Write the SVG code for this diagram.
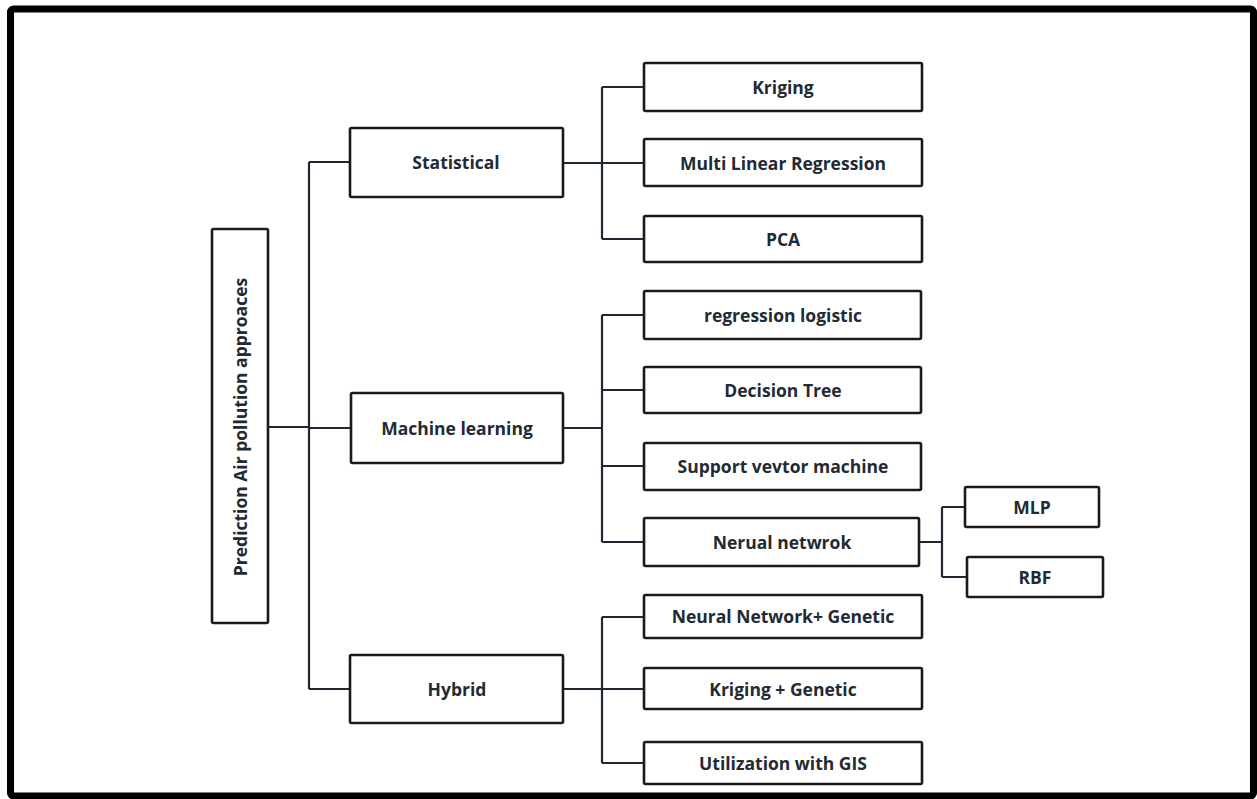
<svg xmlns="http://www.w3.org/2000/svg" width="1257" height="799" viewBox="0 0 1257 799">
<style>
.box{fill:#fff;stroke:#1a1a1a;stroke-width:2.6}
.lbl{font-family:"Open Sans","Liberation Sans",sans-serif;font-weight:700;font-size:17.5px;fill:#222a33;text-anchor:middle;dominant-baseline:central}
.con{fill:none;stroke:#1e2733;stroke-width:2.2}
</style>
<rect x="0" y="0" width="1257" height="799" fill="#fff"/>
<rect x="10.5" y="9" width="1243" height="787" rx="3" fill="#fff" stroke="#000" stroke-width="7"/>
<g id="connectors">
<path class="con" d="M268 427 H309" stroke-width="3"/>
<path class="con" d="M309 162 V689"/>
<path class="con" d="M309 162 H350 M309 428 H351 M309 689 H350"/>
<path class="con" d="M563 163 H602 M602 87 V239 M602 87 H644 M602 163 H644 M602 239 H644"/>
<path class="con" d="M563 428 H602 M602 315 V542 M602 315 H644 M602 390 H644 M602 466 H644 M602 542 H644" />
<path class="con" d="M919 542 H942 M942 507 V577 M942 507 H965 M942 577 H967"/>
<path class="con" d="M563 689 H602 M602 617 V763 M602 617 H644 M602 689 H644 M602 763 H644"/>
</g>
<g id="root"><rect class="box" x="212" y="229" width="56" height="394" rx="1.5"/><text class="lbl" transform="translate(240 427) rotate(-90)">Prediction Air pollution approaces</text></g>
<g id="statistical"><rect class="box" x="350" y="128" width="213" height="69" rx="1.5"/><text class="lbl" x="456" y="162">Statistical</text></g>
<g id="machine-learning"><rect class="box" x="351" y="393" width="212" height="70" rx="1.5"/><text class="lbl" x="457" y="428">Machine learning</text></g>
<g id="hybrid"><rect class="box" x="350" y="655" width="213" height="68" rx="1.5"/><text class="lbl" x="457" y="689">Hybrid</text></g>
<g id="kriging"><rect class="box" x="644" y="63" width="278" height="48" rx="1.5"/><text class="lbl" x="783" y="87">Kriging</text></g>
<g id="mlr"><rect class="box" x="644" y="139" width="278" height="47" rx="1.5"/><text class="lbl" x="783" y="163">Multi Linear Regression</text></g>
<g id="pca"><rect class="box" x="644" y="216" width="278" height="46" rx="1.5"/><text class="lbl" x="783" y="239">PCA</text></g>
<g id="regression-logistic"><rect class="box" x="644" y="291" width="277" height="48" rx="1.5"/><text class="lbl" x="783" y="315">regression logistic</text></g>
<g id="decision-tree"><rect class="box" x="644" y="367" width="277" height="46" rx="1.5"/><text class="lbl" x="783" y="390">Decision Tree</text></g>
<g id="svm"><rect class="box" x="644" y="443" width="277" height="47" rx="1.5"/><text class="lbl" x="783" y="466">Support vevtor machine</text></g>
<g id="neural-network"><rect class="box" x="644" y="518" width="275" height="48" rx="1.5"/><text class="lbl" x="782" y="542">Nerual netwrok</text></g>
<g id="mlp"><rect class="box" x="965" y="487" width="134" height="40" rx="1.5"/><text class="lbl" x="1032" y="507">MLP</text></g>
<g id="rbf"><rect class="box" x="967" y="557" width="136" height="40" rx="1.5"/><text class="lbl" x="1035" y="577">RBF</text></g>
<g id="nn-genetic"><rect class="box" x="644" y="595" width="278" height="43" rx="1.5"/><text class="lbl" x="783" y="616">Neural Network+ Genetic</text></g>
<g id="kriging-genetic"><rect class="box" x="644" y="668" width="278" height="41" rx="1.5"/><text class="lbl" x="783" y="689">Kriging + Genetic</text></g>
<g id="gis"><rect class="box" x="644" y="742" width="278" height="42" rx="1.5"/><text class="lbl" x="783" y="763">Utilization with GIS</text></g>
</svg>
